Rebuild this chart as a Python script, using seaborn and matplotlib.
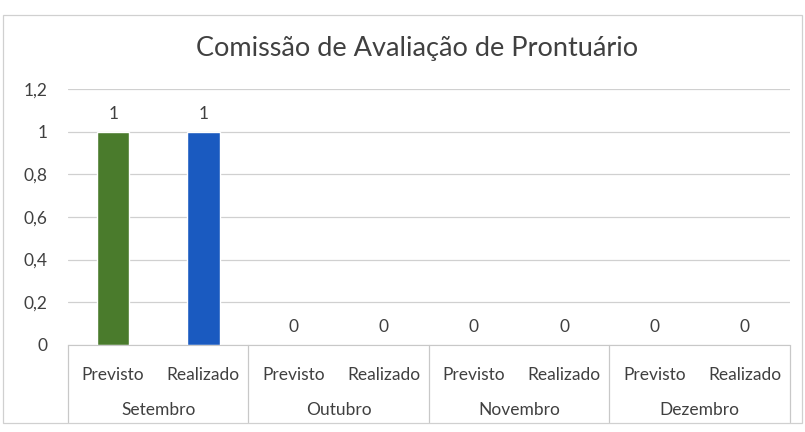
import seaborn as sns
import matplotlib.pyplot as plt
import pandas as pd

# data
meses = ['Setembro', 'Outubro', 'Novembro', 'Dezembro']
tipos = ['Previsto', 'Realizado']
previsto = [1, 0, 0, 0]
realizado = [1, 0, 0, 0]
cores = {'Previsto': '#4a7b2c', 'Realizado': '#1a5ac0'}
titulo = 'Comissão de Avaliação de Prontuário'

rows = []
for i, m in enumerate(meses):
    rows.append({'slot': m + ' Previsto', 'mes': m, 'tipo': 'Previsto', 'valor': previsto[i]})
    rows.append({'slot': m + ' Realizado', 'mes': m, 'tipo': 'Realizado', 'valor': realizado[i]})
df = pd.DataFrame(rows)

sns.set_style("white")
plt.rcParams['font.family'] = ['Lato', 'DejaVu Sans']

fig = plt.figure(figsize=(8.05, 4.32), dpi=100)
ax = fig.add_axes([0.0845, 0.2014, 0.8965, 0.593])

sns.barplot(data=df, x='slot', y='valor', hue='tipo', palette=cores, saturation=1,
            dodge=False, width=0.36, legend=False, ax=ax)

ax.set_ylim(0, 1.2)
ax.set_yticks([0, 0.2, 0.4, 0.6, 0.8, 1.0, 1.2])
ax.set_yticklabels(['0', '0,2', '0,4', '0,6', '0,8', '1', '1,2'], fontsize=12.5, color='#404040')
ax.tick_params(axis='y', length=0, pad=15)
ax.yaxis.grid(True, color='#d0d0d0', linewidth=0.9)
ax.set_axisbelow(True)
for s in ['top', 'right', 'left']:
    ax.spines[s].set_visible(False)
ax.spines['bottom'].set_color('#c8c8c8')

ax.set_xticks(range(len(df)))
ax.set_xticklabels(df['tipo'], fontsize=12.5, color='#404040')
ax.tick_params(axis='x', length=0, pad=16)
ax.set_xlabel('')
ax.set_ylabel('')
ax.set_xlim(-0.5, len(df) - 0.5)

# value labels
for c in ax.containers:
    ax.bar_label(c, labels=[f'{v:g}' for v in c.datavalues], padding=7,
                 fontsize=12.5, color='#404040')

# month labels and separators
trans = ax.get_xaxis_transform()
for i, m in enumerate(meses):
    ax.text(2 * i + 0.5, -0.255, m, transform=trans, ha='center', va='center',
            fontsize=12.5, color='#404040')
for k in range(len(meses) + 1):
    ax.plot([2 * k - 0.5, 2 * k - 0.5], [0, -0.3], transform=trans,
            color='#c8c8c8', linewidth=0.9, clip_on=False)

fig.text(0.518, 0.888, titulo, ha='center', va='center', fontsize=19.5, color='#404040')

# outer chart border
fig.patches.append(plt.Rectangle((0.004, 0.02), 0.992, 0.945, transform=fig.transFigure,
                                 fill=False, edgecolor='#d0d0d0', linewidth=0.9))

fig.savefig('out.png', dpi=100, facecolor='white')
